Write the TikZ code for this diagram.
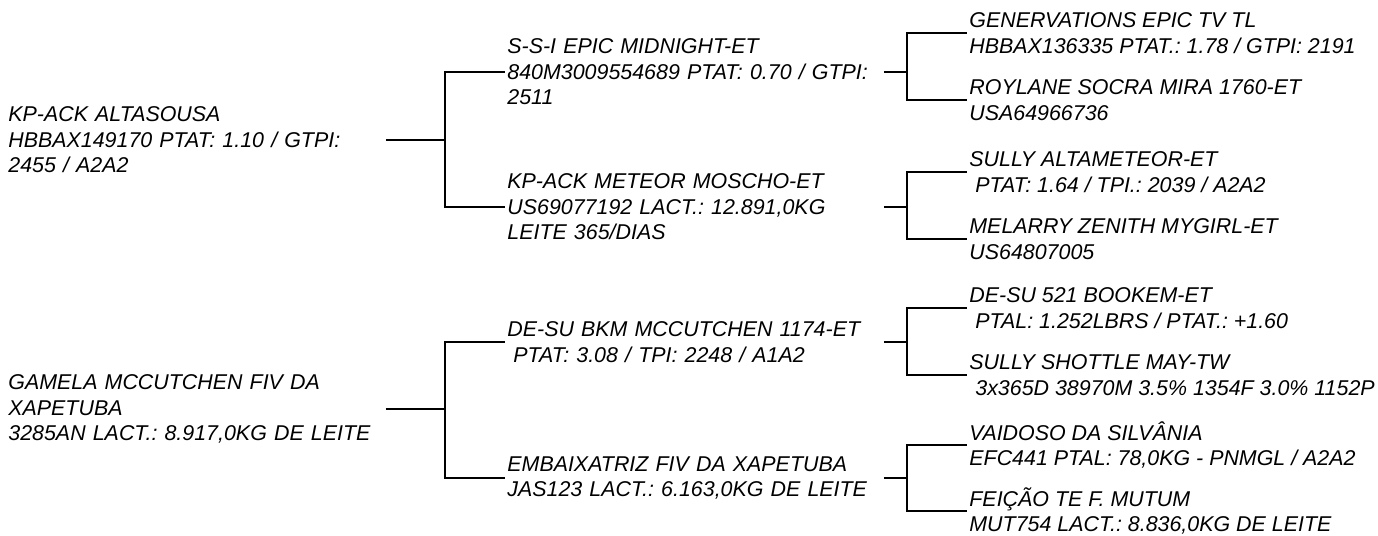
\documentclass[tikz,border=0pt]{standalone}
\usepackage{fontspec}
\setmainfont{Liberation Sans}
\usetikzlibrary{positioning}
\frenchspacing

\tikzset{
  animal/.style={anchor=west, inner xsep=1pt, inner ysep=0pt, align=left,
    font=\itshape\fontsize{10.7}{12.75}\selectfont},
  rootbox/.style={animal, text width=187.5pt},
  midbox/.style={animal, text width=187pt},
  leafbox/.style={animal},
  link/.style={line width=1.1pt}
}
\newcommand{\indnt}{\hspace*{0.28em}}

\begin{document}
\begin{tikzpicture}[x=0.5pt, y=-0.5pt]
  \useasboundingbox (0,0) rectangle (1378,536);

  \node[rootbox] (kpack) at (6,140) {KP-ACK ALTASOUSA\\HBBAX149170 PTAT: 1.10 / GTPI:\\2455 / A2A2};
  \node[rootbox] (gamela) at (6,409) {GAMELA MCCUTCHEN FIV DA\\XAPETUBA\\3285AN LACT.: 8.917,0KG DE LEITE};

  \node[midbox] (ssi) at (505,72) {S-S-I EPIC MIDNIGHT-ET\\840M3009554689 PTAT: 0.70 / GTPI:\\2511};
  \node[midbox] (meteor) at (505,207) {KP-ACK METEOR MOSCHO-ET\\US69077192 LACT.: 12.891,0KG\\LEITE 365/DIAS};
  \node[midbox] (desubkm) at (505,342) {DE-SU BKM MCCUTCHEN 1174-ET\\\indnt PTAT: 3.08 / TPI: 2248 / A1A2};
  \node[midbox] (embaix) at (505,478) {EMBAIXATRIZ FIV DA XAPETUBA\\JAS123 LACT.: 6.163,0KG DE LEITE};

  \node[leafbox] (generv) at (967,33) {GENERVATIONS EPIC TV TL\\HBBAX136335 PTAT.: 1.78 / GTPI: 2191};
  \node[leafbox] (roylane) at (967,100) {ROYLANE SOCRA MIRA 1760-ET\\USA64966736};
  \node[leafbox] (sully) at (967,172) {SULLY ALTAMETEOR-ET\\\indnt PTAT: 1.64 / TPI.: 2039 / A2A2};
  \node[leafbox] (melarry) at (967,239) {MELARRY ZENITH MYGIRL-ET\\US64807005};
  \node[leafbox] (desu) at (967,308) {DE-SU 521 BOOKEM-ET\\\indnt PTAL: 1.252LBRS / PTAT.: +1.60};
  \node[leafbox] (shottle) at (967,375) {SULLY SHOTTLE MAY-TW\\\indnt 3x365D 38970M 3.5\% 1354F 3.0\% 1152P};
  \node[leafbox] (vaidoso) at (967,445) {VAIDOSO DA SILVÂNIA\\EFC441 PTAL: 78,0KG - PNMGL / A2A2};
  \node[leafbox] (feicao) at (967,511) {FEIÇÃO TE F. MUTUM\\MUT754 LACT.: 8.836,0KG DE LEITE};

  \draw[link] (kpack.east) -- ++(59,0) coordinate (kpfork) |- (ssi.west);
  \draw[link] (kpfork) |- (meteor.west);
  \draw[link] (gamela.east) -- ++(59,0) coordinate (gmfork) |- (desubkm.west);
  \draw[link] (gmfork) |- (embaix.west);

  \draw[link] (ssi.east) -- ++(23,0) coordinate (ssifork) |- (generv.west);
  \draw[link] (ssifork) |- (roylane.west);
  \draw[link] (meteor.east) -- ++(23,0) coordinate (metfork) |- (sully.west);
  \draw[link] (metfork) |- (melarry.west);
  \draw[link] (desubkm.east) -- ++(23,0) coordinate (bkmfork) |- (desu.west);
  \draw[link] (bkmfork) |- (shottle.west);
  \draw[link] (embaix.east) -- ++(23,0) coordinate (embfork) |- (vaidoso.west);
  \draw[link] (embfork) |- (feicao.west);
\end{tikzpicture}
\end{document}
